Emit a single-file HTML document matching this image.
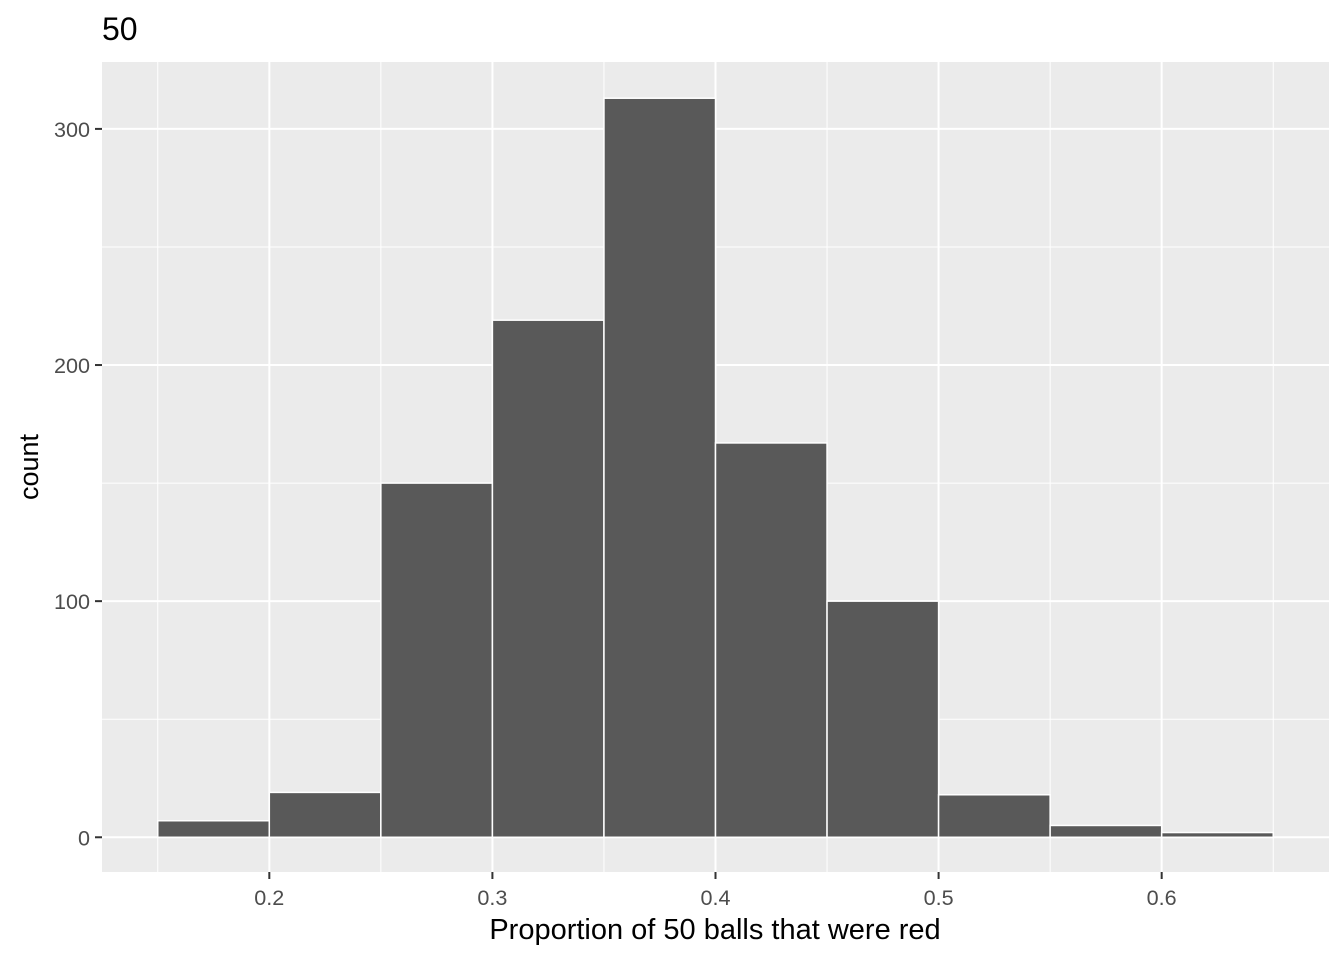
<!DOCTYPE html>
<html><head><meta charset="utf-8"><style>
html,body{margin:0;padding:0;background:#fff;}
svg text{font-family:"Liberation Sans",Arial,sans-serif;}
</style></head><body>
<svg id="chart" width="1344" height="960" xmlns="http://www.w3.org/2000/svg">
<text x="102" y="40" font-size="32" fill="#000">50</text>
<rect x="102" y="62" width="1227" height="810" fill="#ebebeb"/>
<g id="grid"></g>
<g id="bars"></g>
<g id="axes"></g>
<text x="715" y="939" font-size="29" text-anchor="middle" fill="#000">Proportion of 50 balls that were red</text>
<text transform="translate(38,467) rotate(-90)" font-size="27" text-anchor="middle" fill="#000">count</text>
</svg>
<script>
const binStarts = [0.15,0.2,0.25,0.3,0.35,0.4,0.45,0.5,0.55,0.6];
const counts = [7,19,150,219,313,167,100,18,5,2];
const binWidth = 0.05;
const xTicks = [0.2,0.3,0.4,0.5,0.6];
const xTickLabels = ["0.2","0.3","0.4","0.5","0.6"];
const yTicks = [0,100,200,300];
const yTickLabels = ["0","100","200","300"];

const NS="http://www.w3.org/2000/svg";
const pL=102,pR=1329,pT=62,pB=872;
const xmin=0.125,xmax=0.675;
const ymax=Math.max(...counts)*1.049, ymin=-0.047*Math.max(...counts);
function X(v){return pL+(v-xmin)/(xmax-xmin)*(pR-pL);}
function Y(v){return pB-(v-ymin)/(ymax-ymin)*(pB-pT);}
function mk(tag,attrs,parent){const e=document.createElementNS(NS,tag);for(const k in attrs)e.setAttribute(k,attrs[k]);parent.appendChild(e);return e;}
const grid=document.getElementById('grid'),bars=document.getElementById('bars'),axes=document.getElementById('axes');
for(let i=0;i<xTicks.length+1;i++){
  const v=xTicks[0]-0.05+i*0.1;
  if(v>xmin&&v<xmax){const l=mk('line',{x1:X(v),x2:X(v),y1:pT,y2:pB,stroke:'#fff','stroke-width':1},grid);
  
  }
}
for(let i=0;i<yTicks.length;i++){
  const v=yTicks[i]+50;
  if(v<ymax){const l=mk('line',{x1:pL,x2:pR,y1:Y(v),y2:Y(v),stroke:'#fff','stroke-width':1},grid);
  
  }
}
xTicks.forEach((v,i)=>{
  const l=mk('line',{x1:X(v),x2:X(v),y1:pT,y2:pB,stroke:'#fff','stroke-width':2},grid);
  
  
  const t=mk('line',{x1:X(v),x2:X(v),y1:pB,y2:pB+7,stroke:'#333','stroke-width':2},axes);
  
  
  const tx=mk('text',{x:X(v),y:pB+33,'font-size':21.6,'text-anchor':'middle',fill:'#4d4d4d'},axes);
  tx.textContent=xTickLabels[i];
  
  
});
yTicks.forEach((v,i)=>{
  const l=mk('line',{x1:pL,x2:pR,y1:Y(v),y2:Y(v),stroke:'#fff','stroke-width':2},grid);
  
  
  const t=mk('line',{x1:pL-7,x2:pL,y1:Y(v),y2:Y(v),stroke:'#333','stroke-width':2},axes);
  
  
  const tx=mk('text',{x:pL-12,y:Y(v)+8,'font-size':21.6,'text-anchor':'end',fill:'#4d4d4d'},axes);
  tx.textContent=yTickLabels[i];
  
  
});
binStarts.forEach((s,i)=>{
  const x0=X(s),x1=X(s+binWidth),y0=Y(counts[i]),y1=Y(0);
  const r=mk('rect',{x:x0,y:y0,width:x1-x0,height:y1-y0,fill:'#595959',stroke:'#fff','stroke-width':1.5},bars);
  
  
});
</script>
</body></html>
